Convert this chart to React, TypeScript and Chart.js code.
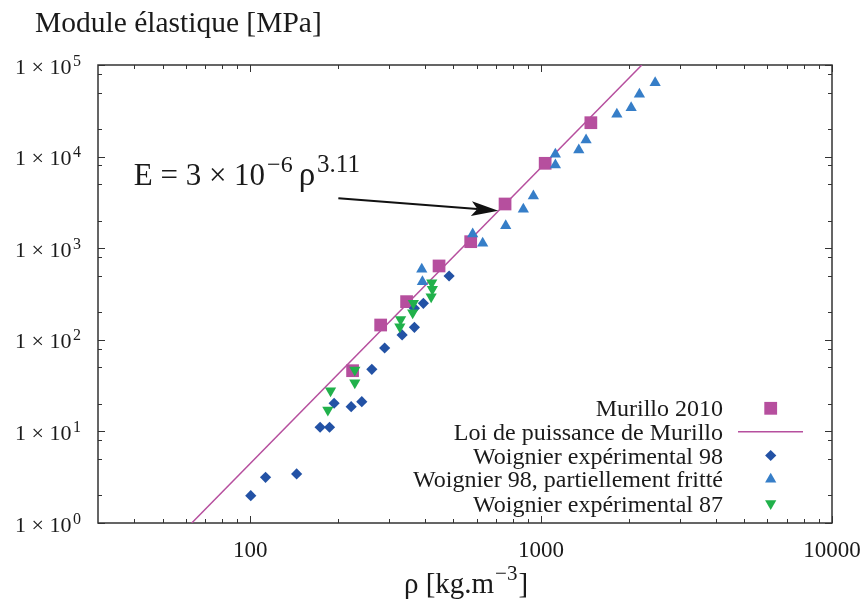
import React, { useEffect, useRef } from 'react';
import { Chart, registerables } from 'chart.js';

Chart.register(...registerables);

// ---------- data ----------
const murilloRho = [225, 281, 345, 446, 573, 752, 1033, 1483];
const murilloE = [46, 145, 261, 640, 1178, 3038, 8450, 23450];

const lawRho = [63, 2220];
const lawE = [1, 100000];

const w98Rho = [100.5, 113, 144.5, 174, 187.5, 194.4, 222.5, 242, 262, 290, 333, 367, 367, 394, 483];
const w98E = [1.99, 3.15, 3.43, 11.1, 11.1, 20.3, 18.6, 21.1, 47.6, 81.4, 113, 137, 221, 250, 497];

const w98fRho = [2467, 2178, 2040, 1822, 1428, 1348, 1120, 1120, 941, 869, 756, 582, 630, 389, 391];
const w98fE = [64100, 47900, 34200, 29000, 15200, 11800, 10600, 8100, 3715, 2660, 1762, 1430, 1131, 589, 431];

const w87Rho = [185, 189, 229, 229, 327, 329, 362, 364, 419, 423, 421];
const w87E = [17.1, 27.8, 46.8, 34, 139, 167, 198, 250, 296, 356, 420];

const seriesLabels = [
  'Murillo 2010',
  'Loi de puissance de Murillo',
  'Woignier expérimental 98',
  'Woignier 98, partiellement fritté',
  'Woignier expérimental 87',
];

const xMajorTicks = [100, 1000, 10000];
const xTickLabels = ['100', '1000', '10000'];
const xMinorTicks = [40, 50, 60, 70, 80, 90, 200, 300, 400, 500, 600, 700, 800, 900, 2000, 3000, 4000, 5000, 6000, 7000, 8000, 9000];
const yMajorTicks = [1, 10, 100, 1000, 10000, 100000];
const yTickExponents = ['0', '1', '2', '3', '4', '5'];
const yMinorTicks = [2, 5, 8, 20, 50, 80, 200, 500, 800, 2000, 5000, 8000, 20000, 50000, 80000];

const titleText = 'Module élastique [MPa]';
const xTitleBase = 'ρ [kg.m';
const xTitleSup = '−3';
const xTitleEnd = ']';
const annotBase = 'E = 3 × 10';
const annotSup1 = '−6';
const annotRho = 'ρ';
const annotSup2 = '3.11';
// annotation anchor (data coords): text start, arrow tail, arrow tip
const annotText = { x: 39.8, y: 4898 };
const arrowTail = { x: 201, y: 3506 };
const arrowTip = { x: 713, y: 2567 };

// ---------- styles ----------
const FONT = '"Liberation Serif", "Times New Roman", serif';
const TEXT = '#1a1a1a';
const FRAME = '#333333';
const C_MUR = '#b64f9e';
const C_W98 = '#2352a5';
const C_W98F = '#367ec8';
const C_W87 = '#21b14b';

const toPts = (xs: number[], ys: number[]) => xs.map((x, i) => ({ x, y: ys[i] }));

function drawMarker(ctx: CanvasRenderingContext2D, kind: string, x: number, y: number, color: string) {
  ctx.save();
  ctx.fillStyle = color;
  ctx.beginPath();
  if (kind === 'rect') {
    const s = 6.4;
    ctx.rect(x - s, y - s, 2 * s, 2 * s);
  } else if (kind === 'diamond') {
    const r = 5.6;
    ctx.moveTo(x, y - r); ctx.lineTo(x + r, y); ctx.lineTo(x, y + r); ctx.lineTo(x - r, y);
  } else if (kind === 'up') {
    const r = 6.5;
    ctx.moveTo(x, y - r); ctx.lineTo(x + r * 0.866, y + r / 2); ctx.lineTo(x - r * 0.866, y + r / 2);
  } else if (kind === 'down') {
    const r = 6.5;
    ctx.moveTo(x, y + r); ctx.lineTo(x + r * 0.866, y - r / 2); ctx.lineTo(x - r * 0.866, y - r / 2);
  }
  ctx.closePath();
  ctx.fill();
  ctx.restore();
}

const decorPlugin = {
  id: 'decor',
  beforeDatasetsDraw(chart: any) {
    const ctx: CanvasRenderingContext2D = chart.ctx;
    const { left, right, top, bottom } = chart.chartArea;
    const xs = chart.scales.x;
    const ys = chart.scales.y;
    ctx.save();
    ctx.strokeStyle = FRAME;
    ctx.lineWidth = 1;
    const tick = (px: number, len: number, vertical: boolean) => {
      ctx.beginPath();
      if (vertical) {
        const p = Math.round(px) + 0.5;
        ctx.moveTo(p, bottom); ctx.lineTo(p, bottom - len);
        ctx.moveTo(p, top); ctx.lineTo(p, top + len);
      } else {
        const p = Math.round(px) + 0.5;
        ctx.moveTo(left, p); ctx.lineTo(left + len, p);
        ctx.moveTo(right, p); ctx.lineTo(right - len, p);
      }
      ctx.stroke();
    };
    xMajorTicks.forEach((v) => tick(xs.getPixelForValue(v), 7, true));
    xMinorTicks.forEach((v) => tick(xs.getPixelForValue(v), 4, true));
    yMajorTicks.forEach((v) => tick(ys.getPixelForValue(v), 7, false));
    yMinorTicks.forEach((v) => tick(ys.getPixelForValue(v), 4, false));
    ctx.lineWidth = 1.5;
    ctx.strokeRect(left, top, right - left, bottom - top);
    ctx.restore();
  },
  afterDraw(chart: any) {
    const ctx: CanvasRenderingContext2D = chart.ctx;
    const xs = chart.scales.x;
    const ys = chart.scales.y;
    ctx.save();
    ctx.fillStyle = TEXT;
    ctx.textBaseline = 'alphabetic';

    // y tick labels with superscripts
    const yRight = 81;
    yMajorTicks.forEach((v, i) => {
      const py = ys.getPixelForValue(v);
      ctx.font = `16px ${FONT}`;
      const sw = ctx.measureText(yTickExponents[i]).width;
      ctx.textAlign = 'left';
      ctx.fillText(yTickExponents[i], yRight - sw, py + 0.5);
      ctx.font = `22px ${FONT}`;
      ctx.textAlign = 'right';
      ctx.fillText('1 × 10', yRight - sw - 1.5, py + 8.5);
    });

    // title (y axis name)
    ctx.textAlign = 'left';
    ctx.font = `29.5px ${FONT}`;
    ctx.fillText(titleText, 35, 32);

    // x axis title with superscript
    ctx.font = `29px ${FONT}`;
    const w1 = ctx.measureText(xTitleBase).width;
    const w3 = ctx.measureText(xTitleEnd).width;
    ctx.font = `21px ${FONT}`;
    const w2 = ctx.measureText(xTitleSup).width;
    const total = w1 + w2 + w3 + 2;
    let cx = 466 - total / 2;
    const by = 593;
    ctx.font = `29px ${FONT}`;
    ctx.fillText(xTitleBase, cx, by);
    cx += w1 + 1;
    ctx.font = `21px ${FONT}`;
    ctx.fillText(xTitleSup, cx, by - 13);
    cx += w2 + 1;
    ctx.font = `29px ${FONT}`;
    ctx.fillText(xTitleEnd, cx, by);

    // annotation text
    let ax = xs.getPixelForValue(annotText.x);
    const ay = ys.getPixelForValue(annotText.y);
    ctx.font = `31px ${FONT}`;
    ctx.fillText(annotBase, ax, ay);
    ax += ctx.measureText(annotBase).width + 2;
    ctx.font = `24px ${FONT}`;
    ctx.fillText(annotSup1, ax, ay - 13);
    ax += ctx.measureText(annotSup1).width + 6;
    ctx.font = `33px ${FONT}`;
    ctx.fillText(annotRho, ax, ay);
    ax += ctx.measureText(annotRho).width + 2;
    ctx.font = `25px ${FONT}`;
    ctx.fillText(annotSup2, ax, ay - 13);

    // arrow
    const tx = xs.getPixelForValue(arrowTail.x), ty = ys.getPixelForValue(arrowTail.y);
    const hx = xs.getPixelForValue(arrowTip.x), hy = ys.getPixelForValue(arrowTip.y);
    const ang = Math.atan2(hy - ty, hx - tx);
    const L = 27, H = 7.5, notch = 6;
    const ux = Math.cos(ang), uy = Math.sin(ang);
    const nx = -uy, ny = ux;
    const bx = hx - ux * L, byy = hy - uy * L;
    ctx.strokeStyle = '#111';
    ctx.lineWidth = 2;
    ctx.beginPath();
    ctx.moveTo(tx, ty);
    ctx.lineTo(bx + ux * notch, byy + uy * notch);
    ctx.stroke();
    ctx.fillStyle = '#111';
    ctx.beginPath();
    ctx.moveTo(hx, hy);
    ctx.lineTo(bx + nx * H, byy + ny * H);
    ctx.lineTo(bx + ux * notch, byy + uy * notch);
    ctx.lineTo(bx - nx * H, byy - ny * H);
    ctx.closePath();
    ctx.fill();

    // legend
    const rowCenters = [408.3, 431.8, 455.5, 479.3, 503.5];
    const kinds = ['rect', 'line', 'diamond', 'up', 'down'];
    const colors = [C_MUR, C_MUR, C_W98, C_W98F, C_W87];
    ctx.font = `24px ${FONT}`;
    ctx.textAlign = 'right';
    seriesLabels.forEach((lab, i) => {
      const cy = rowCenters[i];
      ctx.fillStyle = TEXT;
      ctx.fillText(lab, 723, cy + 8);
      if (kinds[i] === 'line') {
        ctx.strokeStyle = colors[i];
        ctx.lineWidth = 1.5;
        ctx.beginPath();
        ctx.moveTo(738, cy);
        ctx.lineTo(803, cy);
        ctx.stroke();
      } else {
        drawMarker(ctx, kinds[i], 770.7, cy, colors[i]);
      }
    });
    ctx.restore();
  },
};

export default function App() {
  const ref = useRef<HTMLCanvasElement>(null);
  useEffect(() => {
    document.body.style.margin = '0';
    const canvas = ref.current!;
    const chart = new Chart(canvas, {
      type: 'scatter',
      data: {
        datasets: [
          {
            label: seriesLabels[0],
            data: toPts(murilloRho, murilloE),
            pointStyle: 'rect',
            pointRadius: 9,
            backgroundColor: C_MUR,
            borderColor: C_MUR,
            borderWidth: 0,
            order: 5,
          },
          {
            label: seriesLabels[1],
            data: toPts(lawRho, lawE),
            showLine: true,
            pointRadius: 0,
            borderColor: C_MUR,
            backgroundColor: C_MUR,
            borderWidth: 1.5,
            order: 4,
          },
          {
            label: seriesLabels[2],
            data: toPts(w98Rho, w98E),
            pointStyle: 'rectRot',
            pointRadius: 5.6,
            backgroundColor: C_W98,
            borderColor: C_W98,
            borderWidth: 0,
            order: 3,
          },
          {
            label: seriesLabels[3],
            data: toPts(w98fRho, w98fE),
            pointStyle: 'triangle',
            pointRadius: 6.5,
            backgroundColor: C_W98F,
            borderColor: C_W98F,
            borderWidth: 0,
            order: 2,
          },
          {
            label: seriesLabels[4],
            data: toPts(w87Rho, w87E),
            pointStyle: 'triangle',
            pointRotation: 180,
            pointRadius: 6.5,
            backgroundColor: C_W87,
            borderColor: C_W87,
            borderWidth: 0,
            order: 1,
          },
        ],
      } as any,
      options: {
        animation: false,
        responsive: false,
        devicePixelRatio: 1,
        layout: { padding: { top: 65, right: 36, left: 0, bottom: 0 } },
        plugins: {
          legend: { display: false },
          tooltip: { enabled: false },
          title: { display: false },
        },
        scales: {
          x: {
            type: 'logarithmic',
            min: 30,
            max: 10000,
            grid: { display: false },
            border: { display: false },
            afterBuildTicks: (s: any) => {
              s.ticks = xMajorTicks.map((v) => ({ value: v }));
            },
            ticks: {
              autoSkip: false,
              maxRotation: 0,
              padding: 6,
              color: TEXT,
              font: { family: FONT, size: 23 },
              callback: (_v: any, i: number) => xTickLabels[i],
            },
            afterFit: (s: any) => {
              s.height = 80;
            },
          },
          y: {
            type: 'logarithmic',
            min: 1,
            max: 100000,
            grid: { display: false },
            border: { display: false },
            ticks: { display: false },
            afterFit: (s: any) => {
              s.width = 98;
            },
          },
        },
      } as any,
      plugins: [decorPlugin],
    });
    return () => chart.destroy();
  }, []);
  return (
    <div style={{ position: 'absolute', left: 0, top: 0, width: 868, height: 603, background: '#ffffff' }}>
      <canvas ref={ref} width={868} height={603} style={{ display: 'block' }} />
    </div>
  );
}
